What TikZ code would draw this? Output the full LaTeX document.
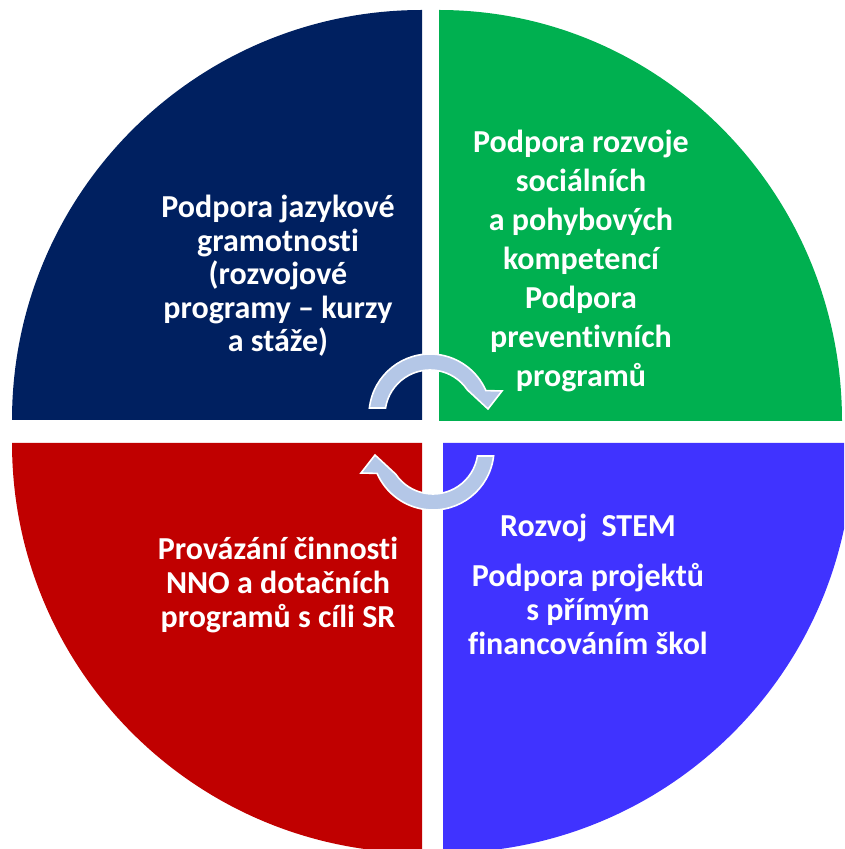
\documentclass[tikz,border=0pt]{standalone}
\usepackage{fontspec}
\setmainfont{Carlito}[Ligatures=NoCommon]
\definecolor{qnavy}{HTML}{002060}
\definecolor{qgreen}{HTML}{00B050}
\definecolor{qred}{HTML}{C00000}
\definecolor{qblue}{RGB}{64,51,255}
\definecolor{arrowfill}{HTML}{B4C7E7}
\tikzset{
  lbl/.style={text=white, font=\bfseries\fontsize{32}{36}\selectfont, anchor=base, inner sep=0pt},
  cyclearrow/.style={fill=arrowfill, draw=white, line width=1.6pt, line join=miter}
}
\begin{document}
\begin{tikzpicture}[x=1pt,y=1pt]
\useasboundingbox (0,0) rectangle (844,849);
\begin{scope}
\clip (0,0) rectangle (844,849);
% quadrants
\fill[qnavy] (422,429) -- (12,429) arc[start angle=180, end angle=90, radius=410] -- cycle;
\fill[qgreen] (439,428) -- (439,839) arc[start angle=90, end angle=0, x radius=403, y radius=411] -- cycle;
\fill[qred] (422,406) -- (422,-4) arc[start angle=270, end angle=180, radius=410] -- cycle;
\fill[qblue] (443,406) -- (853,406) arc[start angle=0, end angle=-90, radius=410] -- cycle;
% cycle arrows
\begin{scope}[shift={(430,434)}]
\draw[cyclearrow] (173.4:61) arc[start angle=173.4, end angle=23.6, radius=61]
  -- (72,24) -- (58,6) -- (34:45) arc[start angle=34, end angle=171.1, radius=45] -- cycle;
\end{scope}
\begin{scope}[shift={(433,400)}, rotate=180]
\draw[cyclearrow] (173.4:61) arc[start angle=173.4, end angle=23.6, radius=61]
  -- (72,24) -- (58,6) -- (34:45) arc[start angle=34, end angle=171.1, radius=45] -- cycle;
\end{scope}
\end{scope}
% texts
\foreach \t [count=\i] in {{Podpora jazykové}, {gramotnosti}, {(rozvojové}, {programy – kurzy}, {a stáže)}}
  \node[lbl] (tl\i) at (278,{631-33.5*(\i-1)}) {\t};
\foreach \t [count=\i] in {{Podpora rozvoje}, {sociálních}, {a pohybových}, {kompetencí}, {Podpora}, {preventivních}, {programů}}
  \node[lbl] (tr\i) at (581,{696-39*(\i-1)}) {\t};
\foreach \t [count=\i] in {{Provázání činnosti}, {NNO a dotačních}, {programů s cíli SR}}
  \node[lbl] (bl\i) at (278,{289-34*(\i-1)}) {\t};
\node[lbl] (br0) at (588,312) {Rozvoj\ \ STEM};
\foreach \t [count=\i] in {{Podpora projektů}, {s přímým}, {financováním škol}}
  \node[lbl] (br\i) at (588,{262-34*(\i-1)}) {\t};
\end{tikzpicture}
\end{document}
